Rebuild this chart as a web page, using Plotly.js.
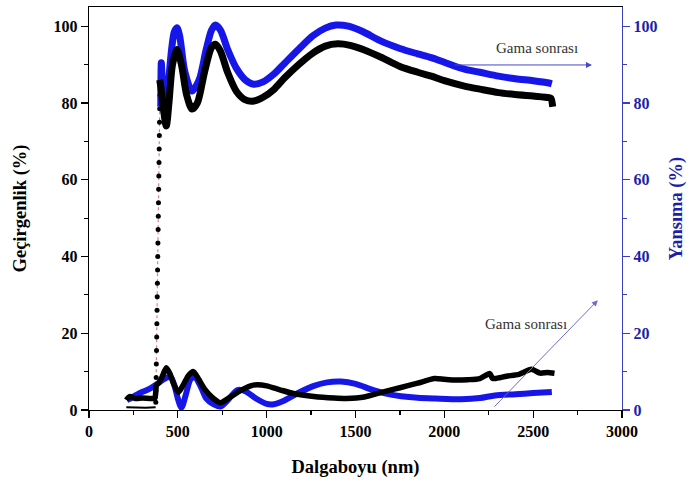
<!DOCTYPE html>
<html>
<head>
<meta charset="utf-8">
<script src="https://cdn.plot.ly/plotly-3.0.1.min.js"></script>
<style>html,body{margin:0;padding:0;background:#fff}#chart{width:690px;height:484px}</style>
</head>
<body>
<div id="chart"></div>
<script>
// Transmission, before gamma (black)
const tBlackUvX = [210, 260, 320, 375];
const tBlackUvY = [0.7, 0.6, 0.6, 0.7];
const tEdgeX = [376, 377, 378, 379, 380, 381, 382, 383, 384, 385, 386, 387, 388, 389, 390, 391, 392, 393, 394, 395, 396, 397, 398, 399, 400];
const tEdgeY = [2, 5, 8.5, 12, 15.5, 19, 22.5, 26, 29.5, 33, 36.5, 40, 43.5, 47, 50.5, 54, 57.5, 61, 64.5, 68, 71.5, 75, 78.5, 82, 85];
const tBlackX = [398, 405, 420, 435, 450, 470, 495, 520, 550, 580, 610, 650, 690, 712, 740, 780, 830, 880, 928, 980, 1040, 1100, 1180, 1260, 1330, 1400, 1470, 1550, 1644, 1750, 1850, 1927, 2000, 2113, 2200, 2305, 2400, 2500, 2588, 2600, 2610];
const tBlackY = [86, 84, 78, 74, 80, 90, 93.9, 90, 82, 78.4, 80, 88, 94.5, 95.3, 93.5, 88, 83, 80.8, 80.5, 81.5, 83.5, 86.5, 90, 93, 94.8, 95.4, 95, 93.8, 91.9, 89.5, 88, 87, 85.8, 84.4, 83.6, 82.7, 82.2, 81.8, 81.4, 81.2, 79];
// Transmission, after gamma (blue)
const tBlueX = [404, 407, 412, 420, 432, 445, 465, 480, 495, 510, 540, 580, 620, 660, 690, 712, 740, 780, 830, 880, 928, 980, 1040, 1100, 1180, 1260, 1330, 1390, 1460, 1540, 1644, 1750, 1850, 1927, 2000, 2113, 2200, 2305, 2400, 2500, 2588, 2605];
const tBlueY = [79, 90.5, 86, 80, 78, 84, 94, 98.5, 99.6, 97.5, 88, 83.1, 86, 94, 99, 100.3, 99, 94, 89, 86, 84.9, 85.5, 87.5, 90.3, 94, 97.5, 99.5, 100.3, 100, 98.6, 96.1, 94.2, 92.8, 91.8, 90.6, 88.8, 88, 87, 86.3, 85.8, 85.2, 85.0];
// Reflection, before gamma (black)
const rBlackX = [210, 220, 232, 260, 300, 340, 365, 372, 380, 392, 410, 435, 455, 475, 503, 530, 560, 588, 615, 650, 700, 740, 790, 850, 910, 947, 1000, 1079, 1150, 1266, 1380, 1450, 1550, 1663, 1750, 1850, 1945, 2000, 2060, 2133, 2200, 2256, 2270, 2285, 2350, 2420, 2490, 2540, 2580, 2620];
const rBlackY = [2.6, 3.2, 3.5, 3.0, 3.1, 3.0, 3.0, 3.2, 6.5, 7.0, 8.5, 11.0, 9.5, 7.0, 4.6, 6.5, 9.0, 10.0, 8.2, 5.5, 3.0, 1.9, 3.2, 5.0, 6.3, 6.6, 6.3, 5.2, 4.3, 3.5, 3.1, 3.0, 3.4, 4.8, 5.8, 7.0, 8.2, 8.0, 7.8, 7.9, 8.2, 9.5, 8.3, 8.2, 8.8, 9.3, 10.6, 9.6, 9.8, 9.6];
// Reflection, after gamma (blue)
const rBlueX = [213, 240, 270, 305, 340, 362, 390, 420, 458, 480, 500, 520, 545, 571, 595, 630, 660, 700, 740, 780, 836, 880, 940, 1000, 1040, 1100, 1180, 1266, 1340, 1418, 1500, 1600, 1700, 1757, 1850, 1950, 2096, 2200, 2285, 2400, 2500, 2605];
const rBlueY = [2.6, 3.2, 4.0, 4.8, 5.5, 6.1, 7.0, 8.0, 8.7, 6.5, 3.0, 0.6, 4.0, 8.0, 8.6, 6.0, 3.0, 1.5, 0.9, 2.5, 5.2, 4.9, 3.0, 1.6, 1.5, 2.5, 4.5, 6.3, 7.2, 7.4, 6.8, 5.2, 4.0, 3.6, 3.2, 3.0, 2.8, 3.1, 3.8, 4.1, 4.4, 4.7];

const labelText = "Gama sonrası";
const xTitle = "Dalgaboyu (nm)";
const yTitle = "Geçirgenlik (%)";
const y2Title = "Yansıma (%)";

const BLUE = "rgb(22,22,232)";
const AXBLUE = "rgb(60,60,190)";
const FONT = "Liberation Serif, Times New Roman, serif";

const traces = [
  {x: rBlueX, y: rBlueY, yaxis: "y2", mode: "lines", line: {color: BLUE, width: 6, shape: "spline", smoothing: 0.8}, hoverinfo: "skip"},
  {x: rBlackX, y: rBlackY, yaxis: "y2", mode: "lines", line: {color: "#000", width: 5.5, shape: "spline", smoothing: 0.6}, hoverinfo: "skip"},
  {x: tBlackUvX, y: tBlackUvY, mode: "lines", line: {color: "#000", width: 2}, hoverinfo: "skip"},
  {x: tEdgeX, y: tEdgeY, mode: "lines+markers", line: {color: "rgb(220,130,140)", width: 1.2, dash: "dot"}, marker: {color: "#000", size: 5}, hoverinfo: "skip"},
  {x: tBlueX, y: tBlueY, mode: "lines", line: {color: BLUE, width: 7, shape: "spline", smoothing: 0.8}, hoverinfo: "skip"},
  {x: tBlackX, y: tBlackY, mode: "lines", line: {color: "#000", width: 7, shape: "spline", smoothing: 0.8}, hoverinfo: "skip"}
];

const tickFont = {family: FONT, size: 16, color: "#000", weight: 700};
const layout = {
  width: 690, height: 484,
  margin: {l: 89, r: 68, t: 7, b: 74},
  paper_bgcolor: "#fff", plot_bgcolor: "#fff",
  showlegend: false,
  xaxis: {
    range: [0, 3000], dtick: 500, tick0: 0,
    showgrid: false, zeroline: false, showline: true, linecolor: "#000", linewidth: 1.2, mirror: true,
    ticks: "outside", ticklen: 7, tickwidth: 1.2, tickcolor: "#000",
    minor: {dtick: 250, ticks: "outside", ticklen: 4, tickcolor: "#000", showgrid: false},
    tickfont: tickFont,
    title: {text: xTitle, font: {family: FONT, size: 18.5, color: "#000", weight: 700}, standoff: 20}
  },
  yaxis: {
    range: [0, 105], dtick: 20, tick0: 0,
    showgrid: false, zeroline: false, showline: true, linecolor: "#000", linewidth: 1.2,
    ticks: "outside", ticklen: 7, tickwidth: 1.2, tickcolor: "#000",
    minor: {dtick: 10, ticks: "outside", ticklen: 4, tickcolor: "#000", showgrid: false},
    tickfont: tickFont,
    title: {text: yTitle, font: {family: FONT, size: 18.5, color: "#000", weight: 700}, standoff: 22}
  },
  yaxis2: {
    overlaying: "y", side: "right",
    range: [0, 105], dtick: 20, tick0: 0,
    showgrid: false, zeroline: false, showline: true, linecolor: AXBLUE, linewidth: 1.2,
    ticks: "outside", ticklen: 7, tickwidth: 1.2, tickcolor: AXBLUE,
    minor: {dtick: 10, ticks: "outside", ticklen: 4, tickcolor: AXBLUE, showgrid: false},
    tickfont: {family: FONT, size: 16, color: "rgb(30,30,170)", weight: 700},
    title: {text: y2Title, font: {family: FONT, size: 18.5, color: "rgb(30,30,170)", weight: 700}, standoff: 12}
  },
  annotations: [
    {x: 2831, y: 89.9, ax: 2049, ay: 89.9, xref: "x", yref: "y", axref: "x", ayref: "y",
     showarrow: true, arrowhead: 2, arrowsize: 1.2, arrowwidth: 1, arrowcolor: "rgb(70,70,200)", text: ""},
    {x: 2520, y: 94.2, xref: "x", yref: "y", text: labelText, showarrow: false,
     font: {family: FONT, size: 15, color: "#333"}},
    {x: 2864, y: 28.6, ax: 2274, ay: 0.5, xref: "x", yref: "y", axref: "x", ayref: "y",
     showarrow: true, arrowhead: 2, arrowsize: 1.2, arrowwidth: 1, arrowcolor: "rgb(110,110,200)", text: ""},
    {x: 2460, y: 22.5, xref: "x", yref: "y", text: labelText, showarrow: false,
     font: {family: FONT, size: 15, color: "#333"}}
  ]
};

Plotly.newPlot("chart", traces, layout, {staticPlot: true, displayModeBar: false});
</script>
</body>
</html>
